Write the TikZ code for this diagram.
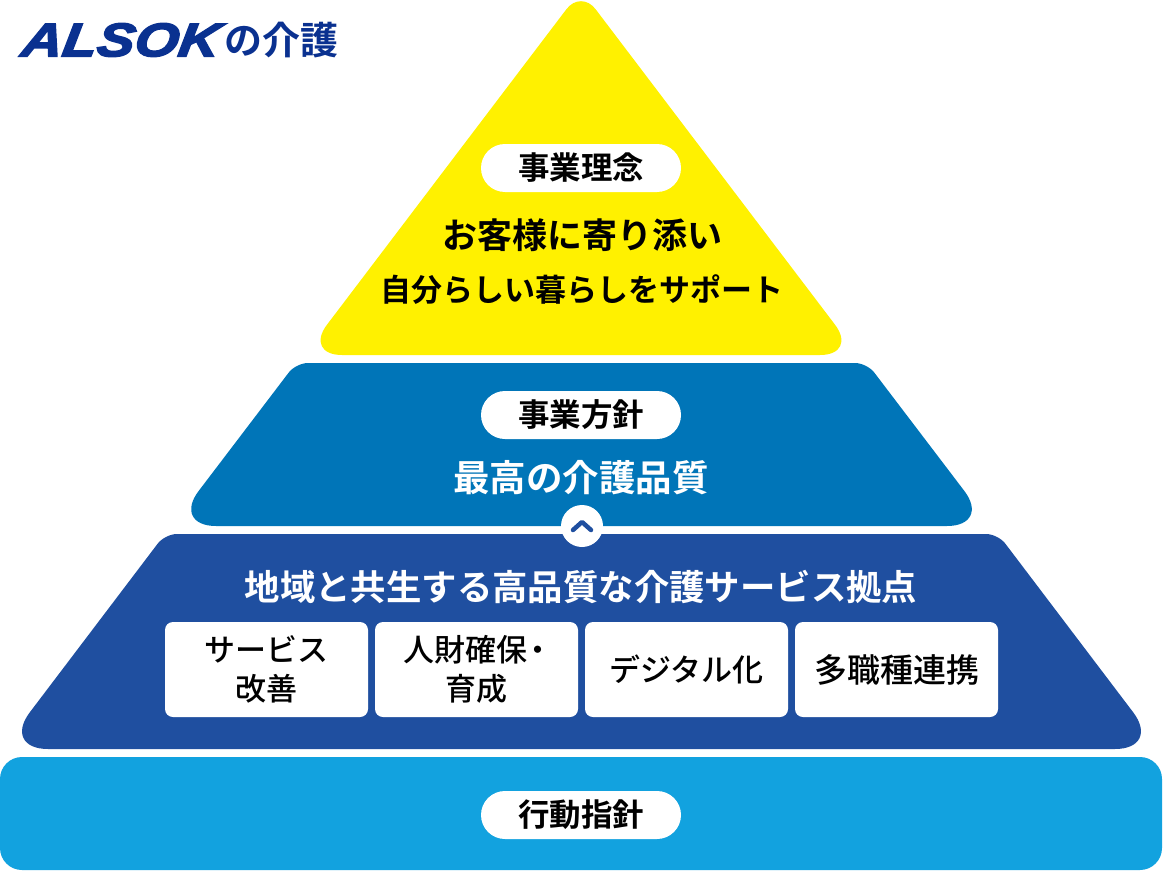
\documentclass[tikz,border=0pt]{standalone}
\usepackage{fontspec}
\setmainfont{Noto Sans CJK JP}[BoldFont={Noto Sans CJK JP Bold}]
\newfontfamily\jpb{Noto Sans CJK JP Bold}
\newfontfamily\jpm{Noto Sans CJK JP Medium}
\newfontfamily\logof{Liberation Sans Bold Italic}[FakeStretch=1.2,FakeBold=3.5,FakeSlant=0.15]
\definecolor{cyellow}{HTML}{FFF100}
\definecolor{cmid}{HTML}{0075B8}
\definecolor{cdark}{HTML}{1F4FA0}
\definecolor{clight}{HTML}{12A2DF}
\definecolor{clogo}{HTML}{0A3190}
\newcommand{\fs}[1]{\fontsize{#1}{#1}\selectfont}
\tikzset{
  pill/.style={fill=white,rounded corners=24pt,minimum width=200pt,minimum height=48pt,inner sep=0pt,text=black,font=\jpb\fs{31.5}},
  cardbox/.style={fill=white,rounded corners=8pt,minimum width=203pt,minimum height=95pt,inner sep=0pt,text=black,align=center,font=\jpm\fontsize{31}{40}\selectfont},
  head/.style={inner sep=0pt,align=center},
}
\begin{document}
\begin{tikzpicture}[x=1pt,y=-1pt]
\useasboundingbox (0,0) rectangle (1164,872);
\fill[cyellow] (581,355) [rounded corners=38pt] -- (304,355) [rounded corners=24pt] -- (581,-10) [rounded corners=38pt] -- (858,355) -- cycle;
\fill[cmid] (581,526) [rounded corners=44pt] -- (172,526) [rounded corners=12pt] -- (296,363) -- (867,363) [rounded corners=44pt] -- (991,526) -- cycle;
\fill[cdark] (581,749) [rounded corners=46pt] -- (2,749) [rounded corners=12pt] -- (165,534) -- (998,534) [rounded corners=46pt] -- (1161,749) -- cycle;
\fill[clight,rounded corners=22pt] (0,757) rectangle (1162,870);
\node[pill] (p1) at (581,168) {\raisebox{-2pt}{事業理念}};
\node[head,text=black,font=\jpb\fs{35}] (t1) at (582,235) {お客様に寄り添い};
\node[head,text=black,font=\jpb\fs{31}] (t2) at (582,290) {自分らしい暮らしをサポート};
\node[pill] (p2) at (581,415) {\raisebox{-2pt}{事業方針}};
\node[head,text=white,font=\jpb\fs{36.5}] (t3) at (581,478) {最高の介護品質};
\node[circle,fill=white,minimum size=42pt,inner sep=0pt] (c) at (582,526) {};
\draw[cdark,line width=4.5pt,line cap=round,line join=round] ([shift={(-9,4)}]c.center) -- ([shift={(0,-4)}]c.center) -- ([shift={(9,4)}]c.center);
\node[head,text=white,font=\jpb\fs{35.4}] (t4) at (581,587) {地域と共生する高品質な介護サービス拠点};
\node[cardbox] (b1) at (266.5,669.5) {\raisebox{-1pt}{サービス}\\改善};
\node[cardbox] (b2) at (476.5,669.5) {\raisebox{-1pt}{人財確保\kern-5pt・\kern-3pt}\\育成};
\node[cardbox] (b3) at (686.5,669.5) {デジタル化};
\node[cardbox,font=\jpm\fs{33}] (b4) at (896.5,669.5) {多職種連携};
\node[pill] (p3) at (581,815) {\raisebox{-2pt}{行動指針}};
\node[anchor=west,inner sep=0pt,text=clogo,font=\logof\fs{47}] (logo1) at (20,40) {ALSOK};
\node[anchor=east,inner sep=0pt,text=clogo,font=\jpb\fs{38}] (logo2) at (339,40) {の介護};
\end{tikzpicture}
\end{document}
